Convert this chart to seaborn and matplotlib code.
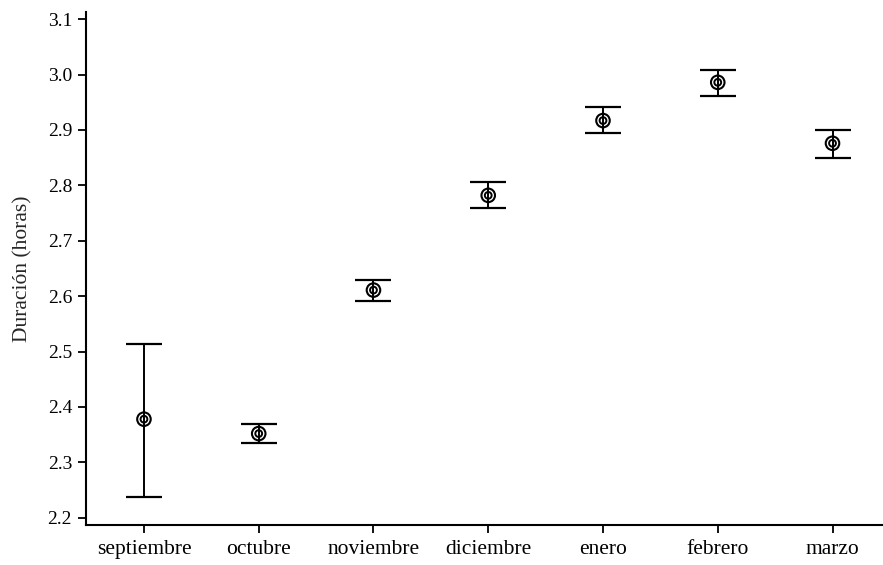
import matplotlib
matplotlib.use("Agg")
import matplotlib.pyplot as plt
import seaborn as sns
import numpy as np
import pandas as pd

# Monthly mean duration with lower/upper interval limits
months = ["septiembre", "octubre", "noviembre", "diciembre", "enero", "febrero", "marzo"]
means = [2.378, 2.352, 2.611, 2.782, 2.917, 2.986, 2.876]
lower = [2.237, 2.335, 2.591, 2.759, 2.894, 2.961, 2.849]
upper = [2.513, 2.369, 2.629, 2.807, 2.942, 3.008, 2.900]
yticks = [2.2, 2.3, 2.4, 2.5, 2.6, 2.7, 2.8, 2.9, 3.0, 3.1]

df = pd.DataFrame({"mes": months, "media": means, "inf": lower, "sup": upper})

sns.set_theme(style="ticks")
plt.rcParams["font.family"] = ["Liberation Serif", "DejaVu Serif"]

fig = plt.figure(figsize=(8.83, 5.65), dpi=100)
ax = fig.add_axes([0.0974, 0.0708, 0.9026, 0.9080])

pos = np.arange(len(df))
ax.errorbar(pos, df["media"],
            yerr=[df["media"] - df["inf"], df["sup"] - df["media"]],
            fmt="none", ecolor="black", elinewidth=1.4, capsize=13, capthick=1.6, zorder=2)

# Outer ring and inner ring of the marker
sns.scatterplot(data=df, x="mes", y="media", ax=ax, marker="o", s=95,
                facecolor="none", edgecolor="black", linewidth=1.5, zorder=3)
sns.scatterplot(data=df, x="mes", y="media", ax=ax, marker="o", s=24,
                facecolor="none", edgecolor="black", linewidth=1.4, zorder=3)

ax.set_xlim(-0.505, 6.44)
ax.set_ylim(2.187, 3.113)
ax.set_yticks(yticks)
ax.set_yticklabels([f"{t:.1f}" for t in yticks])
ax.set_xticks(pos)
ax.set_xticklabels(months)
ax.set_xlabel("")
ax.set_ylabel("Duración (horas)", fontsize=15.5, labelpad=11)

ax.tick_params(axis="both", direction="out", length=6, width=1.3, color="black",
               labelsize=14, labelcolor="black", pad=4)
ax.tick_params(axis="x", labelsize=15.5, pad=5)
sns.despine(ax=ax)
for s in ["left", "bottom"]:
    ax.spines[s].set_linewidth(1.5)
    ax.spines[s].set_color("black")
ax.grid(False)

fig.savefig("out.png", dpi=100)
